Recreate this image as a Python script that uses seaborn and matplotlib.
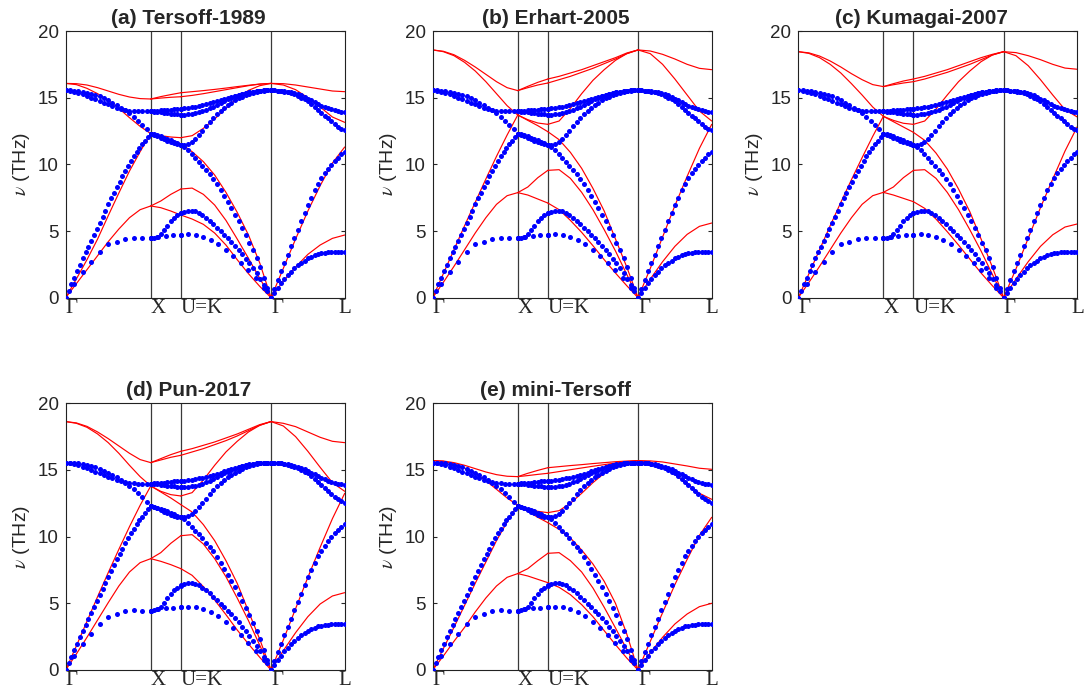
import numpy as np
import pandas as pd
import matplotlib
matplotlib.use("Agg")
import matplotlib.pyplot as plt
import seaborn as sns

# ---------------------------------------------------------------------------
# High-symmetry path of the fcc Brillouin zone (lengths in units of 2*pi/a)
# ---------------------------------------------------------------------------
SEGMENT_LENGTHS = [1.0, np.sqrt(2) / 4, 3 * np.sqrt(2) / 4, np.sqrt(3) / 2]
TICK_LABELS = ["Γ", "X", "U=K", "Γ", "L"]

# ---------------------------------------------------------------------------
# Reference (DFT) phonon frequencies of Si in THz, sampled uniformly along
# each segment: Gamma-X, X-U, K-Gamma, Gamma-L
# ---------------------------------------------------------------------------
DFT_GX = [
    [0, 1.05, 1.95, 2.7, 3.45, 4.0, 4.2, 4.42, 4.49, 4.44, 4.44],
    [0, 0.5, 1.0, 1.5, 1.98, 2.47, 2.95, 3.4, 3.83, 4.25, 4.7, 5.15, 5.6,
     6.07, 6.53, 7.0, 7.45, 7.88, 8.3, 8.7, 9.1, 9.5, 9.88, 10.25, 10.6,
     10.92, 11.22, 11.5, 11.78, 12.05, 12.3],
    [15.55, 15.54, 15.52, 15.49, 15.45, 15.38, 15.3, 15.2, 15.1, 14.96, 14.8,
     14.63, 14.45, 14.25, 14.05, 13.82, 13.55, 13.27, 12.95, 12.63, 12.3],
    [15.55, 15.52, 15.45, 15.36, 15.25, 15.12, 15.0, 14.87, 14.75, 14.62,
     14.5, 14.37, 14.25, 14.15, 14.08, 14.03, 14.0, 13.98, 13.97, 13.97, 13.97],
]
DFT_XK = [
    [4.44, 4.55, 4.62, 4.68, 4.72],
    [4.44, 4.47, 4.55, 4.75, 5.05, 5.4, 5.72, 5.98, 6.18, 6.33],
    [12.3, 12.25, 12.18, 12.1, 12.0, 11.9, 11.8, 11.7, 11.58, 11.45],
    [12.3, 12.22, 12.12, 12.0, 11.88, 11.77, 11.66, 11.57, 11.5, 11.45],
    [13.97, 13.99, 14.01, 14.04, 14.06, 14.09, 14.11, 14.14, 14.16, 14.18],
    [13.97, 13.95, 13.92, 13.89, 13.86, 13.83, 13.8, 13.77, 13.75, 13.73],
]
DFT_KG = [
    [4.72, 4.74, 4.69, 4.57, 4.36, 4.03, 3.6, 3.15, 2.62, 2.06, 1.45, 0.75, 0],
    [6.35, 6.45, 6.52, 6.53, 6.47, 6.35, 6.18, 5.98, 5.75, 5.5, 5.25, 4.98,
     4.72, 4.45, 4.17, 3.88, 3.57, 3.25, 2.92, 2.57, 2.2, 1.82, 1.4, 0.96,
     0.5, 0],
    [11.45, 11.3, 11.05, 10.75, 10.45, 10.17, 9.87, 9.55, 9.25, 8.9, 8.5,
     8.06, 7.6, 7.15, 6.7, 6.22, 5.72, 5.2, 4.68, 4.12, 3.55, 2.95, 2.3, 1.5,
     0.72, 0],
    [11.45, 11.47, 11.55, 11.7, 11.92, 12.2, 12.52, 12.85, 13.2, 13.5, 13.78,
     14.02, 14.25, 14.45, 14.63, 14.8, 14.95, 15.08, 15.2, 15.3, 15.38, 15.45,
     15.5, 15.53, 15.55, 15.55],
    [14.18, 14.2, 14.23, 14.27, 14.32, 14.37, 14.43, 14.5, 14.57, 14.65, 14.73,
     14.81, 14.9, 14.98, 15.07, 15.15, 15.23, 15.3, 15.36, 15.42, 15.46, 15.5,
     15.52, 15.54, 15.55, 15.55],
    [13.73, 13.73, 13.75, 13.78, 13.83, 13.9, 13.98, 14.08, 14.2, 14.33, 14.46,
     14.6, 14.74, 14.88, 15.0, 15.1, 15.2, 15.28, 15.35, 15.41, 15.46, 15.5,
     15.52, 15.54, 15.55, 15.55],
]
DFT_GL = [
    [0, 0.37, 0.73, 1.07, 1.4, 1.68, 1.95, 2.2, 2.42, 2.6, 2.78, 2.95, 3.07,
     3.18, 3.27, 3.33, 3.37, 3.4, 3.42, 3.43, 3.43, 3.43, 3.43],
    [0, 0.67, 1.33, 1.97, 2.6, 3.22, 3.85, 4.47, 5.1, 5.72, 6.35, 6.95, 7.5,
     8.05, 8.52, 8.95, 9.32, 9.65, 9.95, 10.25, 10.5, 10.75, 10.94],
    [15.55, 15.55, 15.53, 15.51, 15.48, 15.45, 15.4, 15.33, 15.26, 15.17,
     15.05, 14.92, 14.8, 14.67, 14.53, 14.4, 14.3, 14.2, 14.12, 14.04, 13.98,
     13.93, 13.9],
    [15.55, 15.54, 15.52, 15.49, 15.45, 15.4, 15.33, 15.24, 15.13, 15.0,
     14.88, 14.75, 14.55, 14.33, 14.1, 13.88, 13.66, 13.44, 13.22, 13.0,
     12.82, 12.67, 12.56],
]

# ---------------------------------------------------------------------------
# Empirical-potential dispersions (THz) on the same four segments
# ---------------------------------------------------------------------------
TERSOFF1989_GX = [
    [0, 1.05, 2.1, 3.15, 4.2, 5.15, 6.0, 6.6, 6.88],
    [0, 1.4, 2.85, 4.4, 6.15, 7.85, 9.5, 10.95, 12.3],
    [16.07, 15.98, 15.7, 15.3, 14.8, 14.2, 13.5, 12.85, 12.3],
    [16.07, 16.05, 15.95, 15.75, 15.5, 15.25, 15.05, 14.93, 14.9],
]
TERSOFF1989_XK = [
    [6.88, 6.75, 6.5, 6.2],
    [6.88, 7.25, 7.75, 8.15],
    [12.3, 12.05, 11.8, 11.55],
    [12.3, 12.15, 12.05, 12.0],
    [14.9, 14.97, 15.03, 15.07],
    [14.9, 15.08, 15.23, 15.37],
]
TERSOFF1989_KG = [
    [6.2, 5.9, 5.5, 4.85, 3.95, 2.85, 1.8, 0.85, 0],
    [8.15, 8.22, 7.75, 6.95, 5.8, 4.4, 2.95, 1.45, 0],
    [11.55, 10.95, 10.2, 9.2, 7.9, 6.4, 4.7, 2.6, 0],
    [12.0, 12.15, 12.7, 13.4, 14.2, 14.95, 15.55, 15.9, 16.07],
    [15.07, 15.17, 15.3, 15.45, 15.6, 15.75, 15.9, 16.02, 16.07],
    [15.37, 15.45, 15.53, 15.62, 15.72, 15.83, 15.93, 16.02, 16.07],
]
TERSOFF1989_GL = [
    [0, 1.25, 2.3, 3.25, 3.95, 4.45, 4.7],
    [0, 2.2, 4.4, 6.5, 8.4, 10.1, 11.3],
    [16.07, 15.95, 15.6, 15.0, 14.3, 13.55, 13.15],
    [16.07, 16.05, 15.95, 15.8, 15.65, 15.5, 15.45],
]

ERHART2005_GX = [
    [0, 1.15, 2.35, 3.6, 4.85, 6.0, 7.0, 7.65, 7.88],
    [0, 1.8, 3.6, 5.4, 7.15, 8.9, 10.6, 12.2, 13.7],
    [18.58, 18.45, 18.15, 17.65, 17.0, 16.2, 15.3, 14.4, 13.7],
    [18.58, 18.48, 18.22, 17.8, 17.3, 16.75, 16.2, 15.75, 15.53],
]
ERHART2005_XK = [
    [7.88, 7.7, 7.4, 7.1],
    [7.88, 8.3, 9.0, 9.55],
    [13.7, 13.3, 12.9, 12.45],
    [13.7, 13.35, 13.1, 13.0],
    [15.53, 15.75, 15.95, 16.1],
    [15.53, 15.85, 16.15, 16.4],
]
ERHART2005_KG = [
    [7.1, 6.6, 5.8, 4.9, 3.9, 2.85, 1.85, 0.9, 0],
    [9.55, 9.6, 8.95, 7.9, 6.6, 5.1, 3.5, 1.75, 0],
    [12.45, 11.85, 10.9, 9.7, 8.2, 6.5, 4.4, 2.3, 0],
    [13.0, 13.25, 14.2, 15.3, 16.3, 17.1, 17.8, 18.3, 18.58],
    [16.1, 16.35, 16.6, 16.9, 17.2, 17.55, 17.9, 18.3, 18.58],
    [16.4, 16.6, 16.85, 17.1, 17.4, 17.7, 18.0, 18.35, 18.58],
]
ERHART2005_GL = [
    [0, 1.4, 2.7, 3.85, 4.75, 5.35, 5.6],
    [0, 2.2, 4.55, 6.9, 9.1, 11.2, 13.0],
    [18.58, 18.3, 17.5, 16.4, 15.2, 14.0, 13.25],
    [18.58, 18.5, 18.25, 17.9, 17.5, 17.2, 17.1],
]

KUMAGAI2007_GX = [
    [0, 1.15, 2.35, 3.6, 4.85, 6.0, 7.0, 7.65, 7.9],
    [0, 1.8, 3.6, 5.4, 7.15, 8.85, 10.5, 12.1, 13.6],
    [18.45, 18.32, 18.0, 17.5, 16.85, 16.05, 15.2, 14.3, 13.6],
    [18.45, 18.36, 18.12, 17.75, 17.3, 16.8, 16.35, 15.98, 15.83],
]
KUMAGAI2007_XK = [
    [7.9, 7.7, 7.45, 7.2],
    [7.9, 8.3, 9.0, 9.55],
    [13.6, 13.2, 12.8, 12.4],
    [13.6, 13.3, 13.08, 13.0],
    [15.83, 15.97, 16.1, 16.2],
    [15.83, 16.05, 16.25, 16.4],
]
KUMAGAI2007_KG = [
    [7.2, 6.7, 5.9, 4.95, 3.95, 2.9, 1.85, 0.9, 0],
    [9.55, 9.6, 8.95, 7.9, 6.6, 5.1, 3.5, 1.75, 0],
    [12.4, 11.8, 10.85, 9.65, 8.15, 6.45, 4.4, 2.3, 0],
    [13.0, 13.25, 14.15, 15.2, 16.2, 17.0, 17.7, 18.2, 18.45],
    [16.2, 16.4, 16.65, 16.9, 17.2, 17.5, 17.85, 18.2, 18.45],
    [16.4, 16.6, 16.85, 17.1, 17.4, 17.7, 18.0, 18.25, 18.45],
]
KUMAGAI2007_GL = [
    [0, 1.4, 2.7, 3.85, 4.72, 5.3, 5.53],
    [0, 2.15, 4.45, 6.75, 8.9, 11.0, 12.83],
    [18.45, 18.15, 17.4, 16.35, 15.2, 14.1, 13.55],
    [18.45, 18.38, 18.15, 17.85, 17.5, 17.22, 17.13],
]

PUN2017_GX = [
    [0, 1.2, 2.45, 3.75, 5.05, 6.3, 7.35, 8.05, 8.35],
    [0, 1.8, 3.65, 5.5, 7.3, 9.05, 10.75, 12.35, 13.8],
    [18.63, 18.5, 18.2, 17.7, 17.05, 16.25, 15.35, 14.5, 13.8],
    [18.63, 18.53, 18.27, 17.85, 17.35, 16.8, 16.25, 15.78, 15.55],
]
PUN2017_XK = [
    [8.35, 8.15, 7.9, 7.6],
    [8.35, 8.8, 9.5, 10.07],
    [13.8, 13.35, 12.9, 12.4],
    [13.8, 13.4, 13.15, 13.05],
    [15.55, 15.75, 15.95, 16.1],
    [15.55, 15.85, 16.15, 16.4],
]
PUN2017_KG = [
    [7.6, 7.1, 6.25, 5.25, 4.15, 3.0, 1.95, 0.95, 0],
    [10.07, 10.15, 9.45, 8.35, 7.0, 5.4, 3.7, 1.85, 0],
    [12.4, 11.85, 10.9, 9.7, 8.2, 6.5, 4.4, 2.3, 0],
    [13.05, 13.3, 14.25, 15.35, 16.35, 17.15, 17.85, 18.35, 18.63],
    [16.1, 16.35, 16.6, 16.9, 17.2, 17.55, 17.95, 18.35, 18.63],
    [16.4, 16.6, 16.85, 17.1, 17.4, 17.7, 18.05, 18.4, 18.63],
]
PUN2017_GL = [
    [0, 1.45, 2.8, 4.0, 4.95, 5.55, 5.8],
    [0, 2.25, 4.6, 6.95, 9.2, 11.35, 13.25],
    [18.63, 18.3, 17.5, 16.4, 15.2, 14.05, 13.4],
    [18.63, 18.5, 18.25, 17.85, 17.45, 17.15, 17.05],
]

MINITERSOFF_GX = [
    [0, 1.05, 2.15, 3.2, 4.35, 5.4, 6.3, 6.95, 7.23],
    [0, 1.6, 3.2, 4.85, 6.5, 8.1, 9.7, 11.1, 12.35],
    [15.7, 15.65, 15.45, 15.15, 14.75, 14.2, 13.55, 12.9, 12.35],
    [15.7, 15.67, 15.55, 15.35, 15.1, 14.85, 14.65, 14.53, 14.5],
]
MINITERSOFF_XK = [
    [7.23, 7.05, 6.8, 6.55],
    [7.23, 7.6, 8.2, 8.75],
    [12.35, 11.9, 11.45, 11.05],
    [12.35, 12.1, 11.9, 11.8],
    [14.5, 14.58, 14.67, 14.75],
    [14.5, 14.75, 14.97, 15.17],
]
MINITERSOFF_KG = [
    [6.55, 6.2, 5.65, 4.9, 4.0, 2.95, 1.9, 0.9, 0],
    [8.75, 8.8, 8.2, 7.35, 6.15, 4.7, 3.15, 1.55, 0],
    [11.05, 10.55, 9.9, 9.0, 7.95, 6.65, 5.0, 2.7, 0],
    [11.8, 11.95, 12.5, 13.25, 14.05, 14.75, 15.3, 15.6, 15.7],
    [14.75, 14.88, 15.02, 15.15, 15.28, 15.4, 15.52, 15.63, 15.7],
    [15.17, 15.25, 15.33, 15.4, 15.48, 15.55, 15.62, 15.67, 15.7],
]
MINITERSOFF_GL = [
    [0, 1.3, 2.45, 3.45, 4.2, 4.75, 5.0],
    [0, 2.15, 4.3, 6.4, 8.3, 10.1, 11.45],
    [15.7, 15.6, 15.25, 14.65, 13.95, 13.25, 12.8],
    [15.7, 15.68, 15.6, 15.45, 15.3, 15.13, 15.05],
]

PANEL_TITLES = ["(a) Tersoff-1989", "(b) Erhart-2005", "(c) Kumagai-2007",
                "(d) Pun-2017", "(e) mini-Tersoff"]
MODEL_SEGMENTS = [
    [TERSOFF1989_GX, TERSOFF1989_XK, TERSOFF1989_KG, TERSOFF1989_GL],
    [ERHART2005_GX, ERHART2005_XK, ERHART2005_KG, ERHART2005_GL],
    [KUMAGAI2007_GX, KUMAGAI2007_XK, KUMAGAI2007_KG, KUMAGAI2007_GL],
    [PUN2017_GX, PUN2017_XK, PUN2017_KG, PUN2017_GL],
    [MINITERSOFF_GX, MINITERSOFF_XK, MINITERSOFF_KG, MINITERSOFF_GL],
]
DFT_SEGMENTS = [DFT_GX, DFT_XK, DFT_KG, DFT_GL]

seg_start = np.concatenate([[0.0], np.cumsum(SEGMENT_LENGTHS)])
path_end = seg_start[-1]


def to_long(segments):
    """Place every branch of every segment on the path coordinate."""
    rows = []
    for s, branches in enumerate(segments):
        for b, vals in enumerate(branches):
            vals = np.asarray(vals, dtype=float)
            k = seg_start[s] + np.linspace(0, 1, len(vals)) * SEGMENT_LENGTHS[s]
            rows.append(pd.DataFrame({"k": k, "nu": vals, "curve": f"{s}-{b}"}))
    return pd.concat(rows, ignore_index=True)


dft_df = to_long(DFT_SEGMENTS)

sns.set_theme(style="white")
plt.rcParams["font.family"] = ["Liberation Sans", "DejaVu Sans"]
plt.rcParams["mathtext.fontset"] = "stix"

fig = plt.figure(figsize=(10.86, 6.89), dpi=100)
W, H = 1086, 689
col_left = [65.7, 432.7, 798.3]
ax_w = 279.0
row_top = [31.0, 403.3]
ax_h = 266.7

for i, (title, segments) in enumerate(zip(PANEL_TITLES, MODEL_SEGMENTS)):
    r, c = divmod(i, 3)
    ax = fig.add_axes([col_left[c] / W, 1 - (row_top[r] + ax_h) / H,
                       ax_w / W, ax_h / H])
    for xv in seg_start[1:-1]:
        ax.axvline(xv, color="#3a3a3a", lw=0.9, zorder=1)

    model_df = to_long(segments)
    sns.lineplot(data=model_df, x="k", y="nu", units="curve", estimator=None,
                 sort=False, color="#ff0000", lw=0.85, ax=ax, zorder=2,
                 legend=False)
    sns.scatterplot(data=dft_df, x="k", y="nu", color="#0000ff", s=13,
                    linewidth=0, ax=ax, zorder=3, legend=False)

    ax.set_xlim(0, path_end)
    ax.set_ylim(0, 20)
    ax.set_yticks([0, 5, 10, 15, 20])
    ax.set_xticks(seg_start)
    ax.set_xticklabels(TICK_LABELS, family="Liberation Serif", fontsize=15)
    for j, lab in enumerate(ax.get_xticklabels()):
        lab.set_ha("center" if j == len(TICK_LABELS) - 1 else "left")
    ax.tick_params(axis="y", direction="in", length=3, width=0.8,
                   labelsize=13.5, right=True, left=True, pad=5)
    ax.tick_params(axis="x", length=0, pad=1)
    for sp in ax.spines.values():
        sp.set_color("#222222")
        sp.set_linewidth(0.8)
    ax.set_xlabel("")
    ax.set_ylabel(r"$\nu$ (THz)", fontsize=14)
    ax.yaxis.set_label_coords(-0.12, 0.5)
    ax.set_title(title, fontsize=15, fontweight="bold", pad=5, x=0.44)

fig.savefig("out.png", dpi=100)
